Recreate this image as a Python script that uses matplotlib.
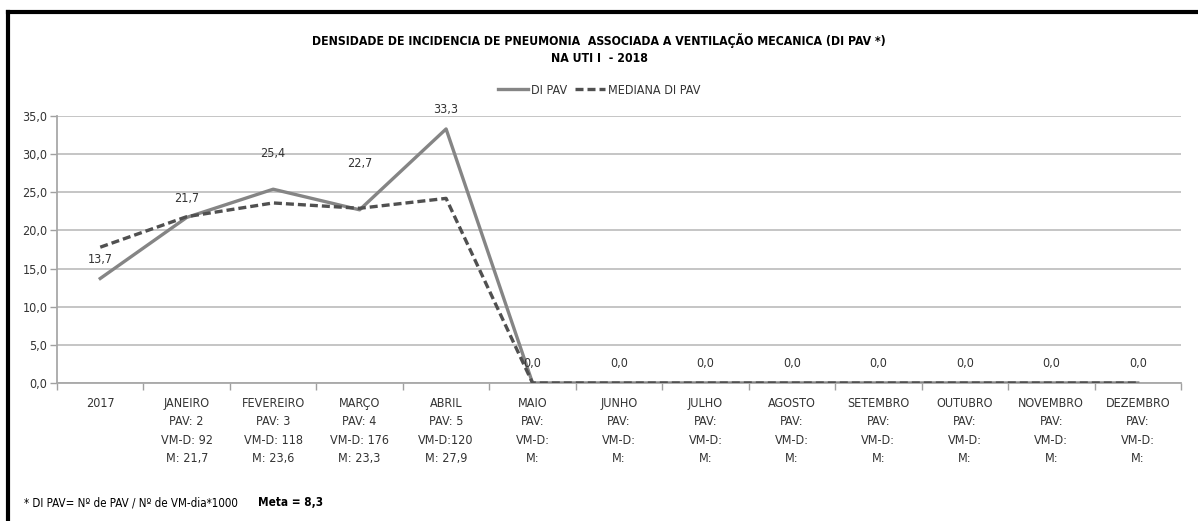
import matplotlib.pyplot as plt
from matplotlib.lines import Line2D

plt.rcParams['font.family'] = ['DejaVu Sans']
plt.rcParams['font.stretch'] = 'condensed'

# chart data
meses = ['2017', 'JANEIRO', 'FEVEREIRO', 'MARÇO', 'ABRIL', 'MAIO', 'JUNHO',
         'JULHO', 'AGOSTO', 'SETEMBRO', 'OUTUBRO', 'NOVEMBRO', 'DEZEMBRO']
pav = ['', '2', '3', '4', '5', '', '', '', '', '', '', '', '']
vm_d = ['', ' 92', ' 118', ' 176', '120', '', '', '', '', '', '', '', '']
m_label = ['', '21,7', '23,6', '23,3', '27,9', '', '', '', '', '', '', '', '']
di_pav = [13.7, 21.7, 25.4, 22.7, 33.3, 0, 0, 0, 0, 0, 0, 0, 0]
mediana = [17.8, 21.8, 23.6, 22.9, 24.2, 0, 0, 0, 0, 0, 0, 0, 0]

# extra lift of some value labels (points)
label_lift = [0, 0, 12, 20, 0, 0, 0, 0, 0, 0, 0, 0, 0]


def make_tick_labels():
    labels = []
    for i, mes in enumerate(meses):
        if mes == '2017':
            labels.append('2017\n\n\n')
            continue
        txt = mes + '\nPAV: ' + pav[i]
        txt += '\nVM-D:' + vm_d[i] + '\nM: ' + m_label[i]
        labels.append(txt.replace('PAV: \n', 'PAV:\n').rstrip())
    return labels


def fmt(v):
    return f'{v:.1f}'.replace('.', ',')


fig = plt.figure(figsize=(11.98, 5.21), dpi=100)
ax = fig.add_axes([0.0476, 0.2649, 0.9382, 0.5125])

x = list(range(len(meses)))
ax.plot(x, di_pav, color='#858585', lw=2.4, label='DI PAV', zorder=3)
ax.plot(x, mediana, color='#505050', lw=2.4, ls=(0, (2.4, 1.2)),
        label='MEDIANA DI PAV', zorder=3)

for i, v in enumerate(di_pav):
    ax.annotate(fmt(v), (i, v), xytext=(0, 9 + label_lift[i]),
                textcoords='offset points', ha='center', va='bottom',
                fontsize=9, color='#333333')

ax.set_xlim(-0.5, len(meses) - 0.5)
ax.set_ylim(0, 35)
ax.set_yticks([0, 5, 10, 15, 20, 25, 30, 35])
ax.set_yticklabels([fmt(v) for v in [0, 5, 10, 15, 20, 25, 30, 35]],
                   fontsize=9, color='#333333')
ax.set_xticks(x)
ax.set_xticklabels(make_tick_labels(), fontsize=9, color='#333333',
                   linespacing=1.55, va='top')
ax.tick_params(axis='x', length=0, pad=10)
ax.set_xticks([i - 0.5 for i in range(len(meses) + 1)], minor=True)
ax.tick_params(axis='x', which='minor', length=5, color='#a0a0a0', width=1)
ax.tick_params(axis='y', length=5, color='#a0a0a0', width=1, pad=2)

ax.grid(axis='y', color='#c0c0c0', lw=1.3)
ax.set_axisbelow(True)
for side in ['top', 'right']:
    ax.spines[side].set_visible(False)
for side in ['left', 'bottom']:
    ax.spines[side].set_color('#a8a8a8')
    ax.spines[side].set_linewidth(1.3)

fig.text(0.5, 1 - 40 / 521,
         'DENSIDADE DE INCIDENCIA DE PNEUMONIA  ASSOCIADA A VENTILAÇÃO MECANICA (DI PAV *)',
         ha='center', va='center', fontsize=8.8, fontweight='bold')
fig.text(0.5, 1 - 58 / 521, 'NA UTI I  - 2018', ha='center', va='center',
         fontsize=8.8, fontweight='bold')

fig.legend(loc='center', bbox_to_anchor=(0.5, 1 - 90 / 521), ncol=2,
           frameon=False, fontsize=9, handlelength=2.4, columnspacing=0.6,
           handletextpad=0.25, labelcolor='#333333')

fig.text(24 / 1198, 1 - 503 / 521, '* DI PAV= Nº de PAV / Nº de VM-dia*1000',
         ha='left', va='center', fontsize=8.3)
fig.text(258 / 1198, 1 - 503 / 521, 'Meta = 8,3', ha='left', va='center',
         fontsize=8.5, fontweight='bold')

# outer frame (top and left edges only)
fig.add_artist(Line2D([8 / 1198, 1], [1 - 12 / 521] * 2, color='black',
                      lw=3, transform=fig.transFigure))
fig.add_artist(Line2D([8 / 1198] * 2, [0, 1 - 12 / 521], color='black',
                      lw=3, transform=fig.transFigure))

fig.savefig('out.png', dpi=100)
